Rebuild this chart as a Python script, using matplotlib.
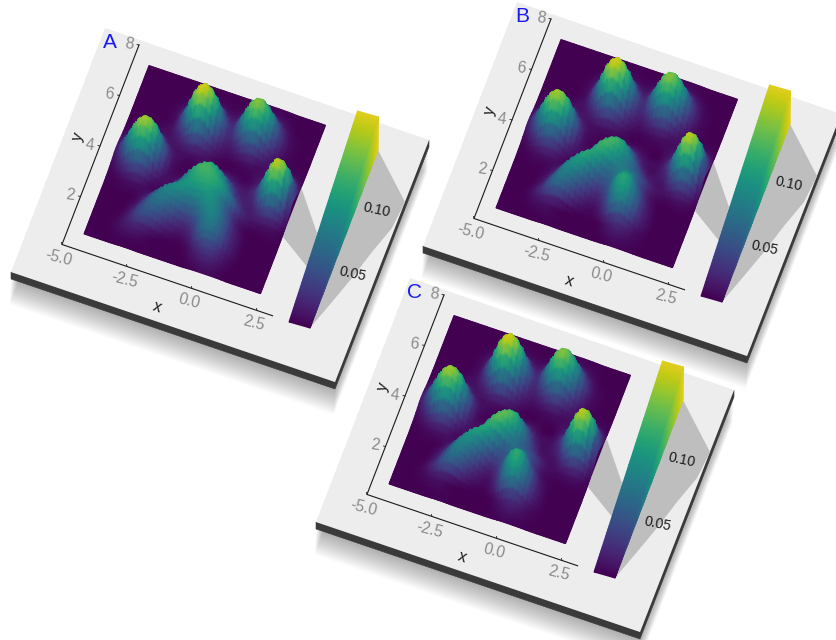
import numpy as np
import matplotlib
matplotlib.use("Agg")
import matplotlib.pyplot as plt
from matplotlib.patches import Polygon
from matplotlib.colors import ListedColormap

plt.rcParams['font.family'] = ['Liberation Sans', 'DejaVu Sans']

# ---------- data: density in units of 0.001, rows run from y top to y bottom ----------
panel_names = ['A', 'B', 'C']
x_ticks = [-5.0, -2.5, 0.0, 2.5]
y_ticks = [2, 4, 6, 8]
legend_ticks = [0.05, 0.10]
density_max = 0.14

toes = [
 [0,0,0,0,0,0,0,0,0,0,0,0,1,2,2,2,1,0,0,0,0],
 [0,0,0,0,0,0,1,2,2,2,1,1,4,8,10,6,3,1,0,0,0],
 [0,0,0,0,0,1,4,8,10,8,4,5,16,36,43,26,10,3,0,0,0],
 [0,0,0,0,1,4,14,35,50,35,14,12,41,82,94,65,25,6,2,0,0],
 [0,0,0,0,2,8,35,86,110,86,35,18,57,105,118,85,35,8,2,0,0],
 [0,0,0,0,2,10,50,110,138,110,50,18,42,82,94,65,25,6,2,0,0],
 [0,1,2,2,4,9,35,86,110,86,35,12,18,36,43,26,10,4,2,2,1],
 [1,3,7,10,9,7,15,35,50,35,14,5,5,8,10,6,6,8,10,8,2],
 [3,12,30,43,34,14,7,9,10,8,4,1,1,2,2,5,10,28,45,35,8],
 [7,30,72,95,84,38,10,4,2,2,1,0,0,0,0,6,20,65,100,85,18],
 [10,45,95,125,110,55,12,2,0,0,0,0,0,0,2,8,30,85,130,110,25],
 [7,30,72,95,84,38,9,2,0,0,0,0,0,0,0,6,20,65,100,85,18],
 [3,12,30,43,34,13,3,1,0,0,0,0,0,0,0,3,9,28,45,35,8],
 [1,3,7,10,8,3,1,0,0,0,0,0,0,0,0,0,3,7,10,8,2],
 [0,1,2,2,2,1,0,0,0,0,0,0,0,0,0,0,0,1,2,2,1],
 [0]*21, [0]*21, [0]*21, [0]*21, [0]*21, [0]*21,
]

pad_a = [
 [0,0,0,0,0,0,0,0,0,3,6,10,10,6,3,0,0,0,0,0,0],
 [0,0,0,0,0,0,0,0,4,12,25,32,30,18,8,3,0,0,0,0,0],
 [0,0,0,0,0,0,0,3,14,40,70,85,70,42,18,6,2,0,0,0,0],
 [0,0,0,0,0,0,2,12,36,70,95,100,90,65,32,12,3,0,0,0,0],
 [0,0,0,0,0,0,6,22,50,74,90,95,92,80,52,22,7,2,0,0,0],
 [0,0,0,0,2,12,34,58,72,78,76,80,80,66,38,12,3,0,0,0,0],
 [0,0,0,1,6,24,48,62,62,56,50,56,70,68,44,16,4,0,0,0,0],
 [0,0,0,2,12,32,48,50,40,28,22,32,56,64,46,18,5,0,0,0,0],
 [0,0,1,4,15,30,34,28,16,8,7,17,42,54,42,18,5,0,0,0,0],
 [0,0,1,5,10,12,9,4,1,1,1,6,18,28,24,10,3,0,0,0,0],
 [0,0,0,2,3,3,2,1,0,0,0,2,7,12,11,5,1,0,0,0,0],
 [0,0,0,0,1,1,0,0,0,0,0,0,2,4,4,2,0,0,0,0,0],
]

pad_b = [
 [0,0,0,0,0,0,0,0,0,2,5,8,6,3,0,0,0,0,0,0,0],
 [0,0,0,0,0,0,0,0,5,14,28,30,20,8,3,0,0,0,0,0,0],
 [0,0,0,0,0,0,0,5,18,45,70,72,45,18,6,2,0,0,0,0,0],
 [0,0,0,0,0,0,3,16,46,80,98,95,66,36,15,5,0,0,0,0,0],
 [0,0,0,0,0,1,9,32,66,94,96,78,60,48,30,12,3,0,0,0,0],
 [0,0,0,0,3,16,44,72,90,82,60,52,66,66,34,10,2,0,0,0,0],
 [0,0,0,2,9,30,62,78,72,46,32,44,80,86,50,16,3,0,0,0,0],
 [0,0,0,3,15,42,62,58,38,20,14,32,72,84,54,18,4,0,0,0,0],
 [0,0,1,6,20,40,46,32,15,6,5,18,50,64,44,16,4,0,0,0,0],
 [0,0,1,3,7,9,7,3,1,1,1,4,14,22,16,6,2,0,0,0,0],
 [0,0,0,1,2,3,2,1,0,0,0,1,5,8,6,3,1,0,0,0,0],
 [0,0,0,0,0,1,1,0,0,0,0,0,1,3,2,1,0,0,0,0,0],
]

pad_c = [
 [0,0,0,0,0,0,0,0,0,3,6,9,7,3,0,0,0,0,0,0,0],
 [0,0,0,0,0,0,0,0,6,16,32,36,24,9,3,0,0,0,0,0,0],
 [0,0,0,0,0,0,0,6,20,50,78,84,52,20,6,2,0,0,0,0,0],
 [0,0,0,0,0,0,3,18,50,86,106,100,66,32,12,3,0,0,0,0,0],
 [0,0,0,0,0,1,10,34,70,98,100,74,52,40,26,9,2,0,0,0,0],
 [0,0,0,0,3,17,46,74,88,76,52,40,58,60,28,7,2,0,0,0,0],
 [0,0,0,2,10,32,62,74,62,38,22,38,80,88,48,14,3,0,0,0,0],
 [0,0,0,3,15,40,60,54,32,14,9,30,74,88,54,18,4,0,0,0,0],
 [0,0,1,6,20,38,42,28,12,5,4,18,52,68,44,16,4,0,0,0,0],
 [0,0,1,3,7,9,6,2,1,0,1,4,14,22,16,6,2,0,0,0,0],
 [0,0,0,1,2,3,2,1,0,0,0,1,5,8,6,3,1,0,0,0,0],
 [0,0,0,0,0,1,1,0,0,0,0,0,1,3,2,1,0,0,0,0,0],
]
pads = [pad_a, pad_b, pad_c]

# ---------- layout (pixels for panel A; other panels are shifted copies) ----------
offsets = [(0, 0), (412, -26), (305, 250)]
origin = np.array([61.0, 247.0])        # x=-5, y=0
ex = np.array([26.0, 8.8])              # per x unit
ey = np.array([9.75, -25.25])           # per y unit
map_x = (-4.39, 2.4)
map_y = (0.73, 7.4)
axis_x = (-5.0, 3.1)
axis_y = (0.1, 8.0)
lift = 340.0                            # px of screen height per density unit (surface)
bar_lift = 233.0                        # same, for the legend bar

plate = np.array([(105, 28), (429, 140), (335, 382), (11, 272)], float)
thick = 7.0
bar_bl = np.array([289.0, 322.0])
bar_br = np.array([310.0, 328.0])
bar_vec = np.array([68.5, -211.0])
bar_base_top = np.array([378.0, 150.0])
map_shadow = np.array([(300, 184), (317, 233), (308, 268), (283, 237)], float)
bar_shadow = np.array([(378, 150), (405, 202), (392, 228), (372, 252), (352, 278), (332, 302),
                       (315, 322), (310, 328)], float)

PLATE = '#EDEDED'
EDGE = '#3A3A3A'
SHADE = '#BEBEBE'
TICK = '#8A8A8A'
INK = '#1A1A1A'
BLUE = '#1A1AF0'

base = plt.get_cmap('viridis')(np.linspace(0, 1, 256))[:, :3]
dim = np.linspace(0.98, 0.89, 256)[:, None]
surface_cmap = ListedColormap(base * dim)

fig = plt.figure(figsize=(8.37, 6.40), dpi=100)
ax = fig.add_axes([0, 0, 1, 1])
ax.set_xlim(0, 837)
ax.set_ylim(640, 0)
ax.axis('off')


def refine(grid, n=4):
    """Smooth resampling of the read grid for display (like bicubic imshow)."""
    def along(a):
        p = np.concatenate([a[:1], a, a[-1:]], axis=0)
        rows = []
        for k in range(a.shape[0] - 1):
            for t in np.arange(n) / n:
                p0, p1, p2, p3 = p[k], p[k + 1], p[k + 2], p[k + 3]
                rows.append(0.5 * (2 * p1 + (p2 - p0) * t + (2 * p0 - 5 * p1 + 4 * p2 - p3) * t ** 2
                                   + (3 * p1 - p0 - 3 * p2 + p3) * t ** 3))
        rows.append(a[-1])
        return np.array(rows)
    g = np.asarray(grid, float)
    g = along(g)
    g = along(g.T).T
    return np.clip(g, 0, None)


def pos(x, y, off):
    return origin + (x + 5.0) * ex + y * ey + np.array(off)


def draw_panel(name, pad, off):
    off = np.array(off, float)

    # soft drop shadow of the plate
    for k in range(1, 15):
        shift = np.array([-0.1 * k, 1.8 * k])
        bottom = plate.copy()
        bottom[:, 1] += thick
        ax.add_patch(Polygon(bottom + off + shift, closed=True, fc='black', ec='none',
                             alpha=0.022, zorder=1))

    # plate side and top
    p = plate + off
    side = np.array([p[3], p[2], p[1], p[1] + (0, thick), p[2] + (0, thick), p[3] + (0, thick)])
    ax.add_patch(Polygon(side, closed=True, fc=EDGE, ec=EDGE, lw=0.4, zorder=2))
    ax.add_patch(Polygon(p, closed=True, fc=PLATE, ec='none', zorder=3))

    # cast shadows on the plate
    ax.add_patch(Polygon(map_shadow + off, closed=True, fc=SHADE, ec='none', zorder=4))
    ax.add_patch(Polygon(bar_shadow + off, closed=True, fc=SHADE, ec='none', zorder=4))

    # axis lines and ticks
    a0 = pos(axis_x[0], axis_y[0], off)
    a1 = pos(axis_x[1], axis_y[0], off)
    a2 = pos(axis_x[0], axis_y[1], off)
    ax.plot([a2[0], a0[0], a1[0]], [a2[1], a0[1], a1[1]], color=INK, lw=0.8, zorder=5,
            solid_joinstyle='miter')
    for v in x_ticks:
        t = pos(v, axis_y[0], off)
        ax.plot([t[0], t[0] - 0.5], [t[1], t[1] - 2], color=INK, lw=0.6, zorder=5)
        ax.text(t[0] - 3, t[1] + 13, f'{v:.1f}', color=TICK, fontsize=11.3, rotation=-14,
                ha='center', va='center', zorder=6)
    for v in y_ticks:
        t = pos(axis_x[0], v, off)
        ax.plot([t[0], t[0] - 2], [t[1], t[1] - 0.5], color=INK, lw=0.6, zorder=5)
        ax.text(t[0] - 10, t[1] - 1, str(v), color=TICK, fontsize=11.3, rotation=-8,
                ha='center', va='center', zorder=6)
    ax.text(157 + off[0], 307 + off[1], 'x', color=INK, fontsize=11.5, rotation=-19,
            ha='center', va='center', zorder=6)
    ax.text(78 + off[0], 137 + off[1], 'y', color=INK, fontsize=11.5, rotation=71,
            ha='center', va='center', zorder=6)
    ax.text(110 + off[0], 43 + off[1], name, color=BLUE, fontsize=15,
            ha='center', va='center', zorder=6)

    # footprint of the surface, so lifted edges leave no gap
    footprint = np.array([pos(map_x[0], map_y[0], off), pos(map_x[0], map_y[1], off),
                          pos(map_x[1], map_y[1], off), pos(map_x[1], map_y[0], off)])
    ax.add_patch(Polygon(footprint, closed=True, fc=surface_cmap(0.0), ec='none', zorder=6.5))

    # density surface, lifted by its height in small steps, back rows first
    full = np.array(toes, float)
    full[-12:] += np.array(pad, float)
    z = refine(full) / 1000.0
    nr, nc = z.shape
    xs = np.linspace(map_x[0], map_x[1], nc)
    ys = np.linspace(map_y[1], map_y[0], nr)
    gx, gy = np.meshgrid(xs, ys)
    step_r = (np.arange(nr) // 2) * 2
    step_c = (np.arange(nc) // 2) * 2
    z_step = z[np.ix_(step_r, step_c)]
    sx = origin[0] + (gx + 5) * ex[0] + gy * ey[0] + off[0]
    sy = origin[1] + (gx + 5) * ex[1] + gy * ey[1] + off[1] - z_step * lift
    ax.pcolormesh(sx, sy, z, shading='gouraud', cmap=surface_cmap, vmin=0, vmax=density_max,
                  zorder=7, antialiased=False)

    # legend bar: side face then front face
    levels = np.linspace(0, density_max, 60)
    frac = (levels / density_max)[:, None]
    front_l = bar_bl + frac * bar_vec
    front_r = bar_br + frac * bar_vec
    base_r = bar_br + frac * (bar_base_top - bar_br)
    vals = np.column_stack([levels, levels])
    ax.pcolormesh(np.column_stack([front_r[:, 0], base_r[:, 0]]) + off[0],
                  np.column_stack([front_r[:, 1], base_r[:, 1]]) + off[1],
                  vals, shading='gouraud', cmap=surface_cmap, vmin=0, vmax=density_max, zorder=8)
    ax.pcolormesh(np.column_stack([front_l[:, 0], front_r[:, 0]]) + off[0],
                  np.column_stack([front_l[:, 1], front_r[:, 1]]) + off[1],
                  vals, shading='gouraud', cmap=surface_cmap, vmin=0, vmax=density_max, zorder=9)

    mid = 0.5 * (bar_bl + bar_br)
    for v in legend_ticks:
        q = mid + v / density_max * bar_vec + np.array([28.5, 12.5 + v * bar_lift])
        ax.text(q[0] + off[0], q[1] + off[1], f'{v:.2f}', color=INK, fontsize=10.2, rotation=-12,
                ha='center', va='center', zorder=10)


for nm, pd_grid, of in zip(panel_names, pads, offsets):
    draw_panel(nm, pd_grid, of)

fig.savefig('out.png', dpi=100, facecolor='white')
